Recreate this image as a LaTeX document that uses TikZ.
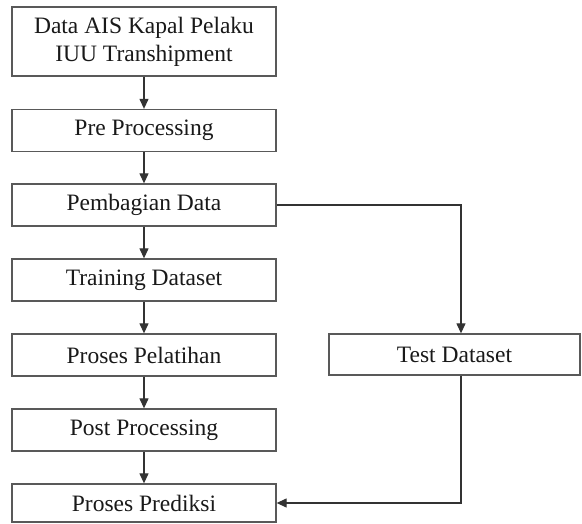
\documentclass[tikz,border=0pt]{standalone}
\usepackage{fontspec}
\setmainfont{Liberation Serif}
\usetikzlibrary{arrows.meta}
\begin{document}
\begin{tikzpicture}[x=1pt,y=-1pt,
  box/.style={draw=black!65, line width=1.3pt, fill=white, inner sep=0pt,
    align=center, font=\fontsize{23.5}{28}\selectfont, text=black!90},
  conn/.style={draw=black!80, line width=1.2pt, -{Triangle[length=10pt,width=9pt]}}]
\useasboundingbox (0,0) rectangle (582,524);
\node[box, minimum width=264pt, minimum height=69pt] (a) at (144,41.5) {Data AIS Kapal Pelaku\\IUU Transhipment};
\node[box, minimum width=264pt, minimum height=42pt] (b) at (144,130.5) {Pre Processing};
\node[box, minimum width=264pt, minimum height=42pt] (c) at (144,205) {Pembagian Data};
\node[box, minimum width=264pt, minimum height=42pt] (d) at (144,280) {Training Dataset};
\node[box, minimum width=264pt, minimum height=42pt] (e) at (144,355) {Proses Pelatihan};
\node[box, minimum width=264pt, minimum height=42pt] (f) at (144,430) {Post Processing};
\node[box, minimum width=264pt, minimum height=38pt] (g) at (144,503) {Proses Prediksi};
\node[box, minimum width=251pt, minimum height=41pt] (t) at (454.5,354.5) {Test Dataset};
\coordinate (k1) at (461,205);
\coordinate (k2) at (461,503);
\draw[conn] (a) -- (b);
\draw[conn] (b) -- (c);
\draw[conn] (c) -- (d);
\draw[conn] (d) -- (e);
\draw[conn] (e) -- (f);
\draw[conn] (f) -- (g);
\draw[conn] (c.east) -- (k1) -- (k1 |- t.north);
\draw[conn] (k1 |- t.south) -- (k2) -- (g.east);
\end{tikzpicture}
\end{document}
